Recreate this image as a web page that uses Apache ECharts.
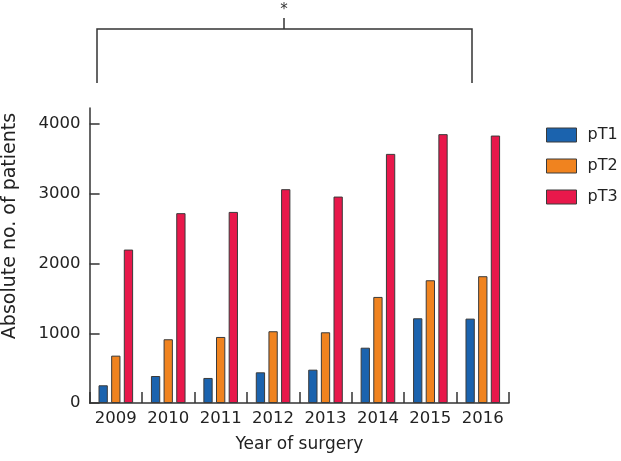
<!DOCTYPE html>
<html>
<head>
<meta charset="utf-8">
<script src="https://cdn.jsdelivr.net/npm/echarts@6/dist/echarts.min.js"></script>
<style>html,body{margin:0;padding:0;background:#fff}#chart{width:621px;height:461px}</style>
</head>
<body>
<div id="chart"></div>
<script>
var years = ['2009','2010','2011','2012','2013','2014','2015','2016'];
var pT1 = [254, 387, 359, 440, 478, 793, 1215, 1210];
var pT2 = [679, 914, 947, 1029, 1014, 1521, 1760, 1818];
var pT3 = [2200, 2722, 2740, 3066, 2960, 3572, 3855, 3835];
var yTicks = [0, 1000, 2000, 3000, 4000];

var FONT = 'DejaVu Sans';
var AX = '#333333';
var chart = echarts.init(document.getElementById('chart'), null, {renderer: 'canvas'});

function bar(name, data, color) {
  return {
    name: name, type: 'bar', data: data,
    barWidth: 9.3, barGap: '36%',
    itemStyle: {color: color, borderColor: '#3a3a3a', borderWidth: 1},
    emphasis: {disabled: true}
  };
}

chart.setOption({
  animation: false,
  backgroundColor: '#ffffff',
  textStyle: {fontFamily: FONT},
  grid: {left: 89.6, right: 112, top: 108, bottom: 58, containLabel: false},
  legend: {
    orient: 'vertical', left: 541, top: 122,
    itemWidth: 30, itemHeight: 14, itemGap: 15,
    icon: 'rect',
    textStyle: {fontFamily: FONT, fontSize: 16, color: '#222', padding: [0,0,0,6], lineHeight: 14},
    itemStyle: {borderColor: '#3a3a3a', borderWidth: 1},
    data: ['pT1','pT2','pT3']
  },
  xAxis: {
    type: 'category', data: years, boundaryGap: true,
    name: 'Year of surgery', nameLocation: 'middle', nameGap: 33,
    nameTextStyle: {fontFamily: FONT, fontSize: 17, color: '#222'},
    axisLine: {lineStyle: {color: AX, width: 1.5}},
    axisTick: {show: true, interval: 0, inside: true, length: 11, lineStyle: {color: AX, width: 1.5}},
    axisLabel: {interval: 0, fontFamily: FONT, fontSize: 16.5, color: '#222', margin: 7},
    splitLine: {show: false}
  },
  yAxis: {
    type: 'value', min: 0, max: 4230, interval: 1000,
    axisLine: {show: true, lineStyle: {color: AX, width: 1.5}},
    axisTick: {show: true, inside: true, length: 10, customValues: yTicks, lineStyle: {color: AX, width: 1.5}},
    axisLabel: {fontFamily: FONT, fontSize: 16.5, color: '#222', margin: 9, customValues: yTicks,
                formatter: function (v) { return String(v); }},
    splitLine: {show: false}
  },
  series: [
    bar('pT1', pT1, '#1b63ae'),
    bar('pT2', pT2, '#f0831f'),
    bar('pT3', pT3, '#e8184b')
  ],
  graphic: [
    {type: 'text', rotation: Math.PI / 2, x: 10, y: 226,
     style: {text: 'Absolute no. of patients', fontFamily: FONT, fontSize: 19, fill: '#222', textAlign: 'center', textVerticalAlign: 'middle'}},
    {type: 'polyline', shape: {points: [[97, 83], [97, 29], [472, 29], [472, 83]]},
     style: {stroke: AX, lineWidth: 1.5, fill: null}},
    {type: 'line', shape: {x1: 284, y1: 18, x2: 284, y2: 29}, style: {stroke: AX, lineWidth: 1.5}},
    {type: 'text', x: 284, y: 10,
     style: {text: '*', fontFamily: FONT, fontSize: 15, fill: '#333', textAlign: 'center', textVerticalAlign: 'middle'}}
  ]
});
</script>
</body>
</html>
